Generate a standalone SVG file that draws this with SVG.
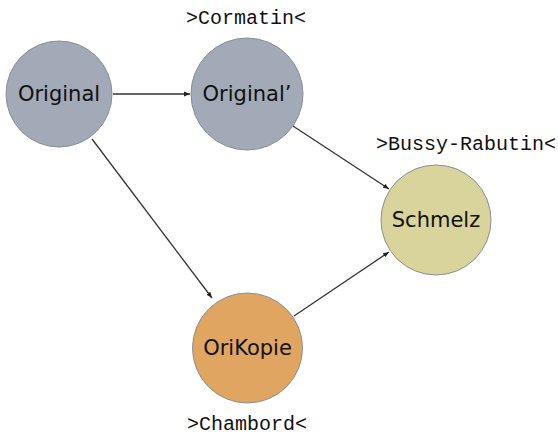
<svg xmlns="http://www.w3.org/2000/svg" width="558" height="436" viewBox="0 0 558 436">
<style>
.node circle{stroke:#8a8f96;stroke-width:1}
.node text{font-family:"DejaVu Sans",sans-serif;font-size:21px;fill:#111;text-anchor:middle;dominant-baseline:central}
.lbl{font-family:"Liberation Mono","DejaVu Sans Mono",monospace;font-size:20px;fill:#111;text-anchor:middle}
.edge{stroke:#333;stroke-width:1.3;fill:none;marker-end:url(#ah)}
</style>
<defs>
<marker id="ah" viewBox="0 0 10 10" refX="10" refY="5" markerWidth="6" markerHeight="6" markerUnits="userSpaceOnUse" orient="auto">
<path d="M0,1 L10,5 L0,9 z" fill="#222"/>
</marker>
</defs>
<rect width="558" height="436" fill="#fff"/>
<g id="connectors">
<line class="edge" x1="113" y1="94" x2="190" y2="94"/>
<line class="edge" x1="92" y1="139" x2="212" y2="298"/>
<line class="edge" x1="293" y1="126" x2="389" y2="189"/>
<line class="edge" x1="294" y1="316" x2="389" y2="252"/>
</g>
<g id="n-original" class="node">
<circle cx="59" cy="94" r="53" fill="#a1aab6"/>
<text x="59" y="94">Original</text>
</g>
<g id="n-original2" class="node">
<circle cx="247" cy="94" r="56" fill="#a1aab6"/>
<text x="247" y="94">Original’</text>
<text class="lbl" x="246" y="24" style="font-family:'Liberation Mono','DejaVu Sans Mono',monospace;font-size:20px;dominant-baseline:auto">&gt;Cormatin&lt;</text>
</g>
<g id="n-schmelz" class="node">
<circle cx="436" cy="220" r="55" fill="#d8d49b"/>
<text x="436" y="220">Schmelz</text>
<text class="lbl" x="466" y="150" style="font-family:'Liberation Mono','DejaVu Sans Mono',monospace;font-size:20px;dominant-baseline:auto">&gt;Bussy-Rabutin&lt;</text>
</g>
<g id="n-orikopie" class="node">
<circle cx="247.5" cy="348" r="55" fill="#e1a562"/>
<text x="247.5" y="348">OriKopie</text>
<text class="lbl" x="247" y="430" style="font-family:'Liberation Mono','DejaVu Sans Mono',monospace;font-size:20px;dominant-baseline:auto">&gt;Chambord&lt;</text>
</g>
</svg>
